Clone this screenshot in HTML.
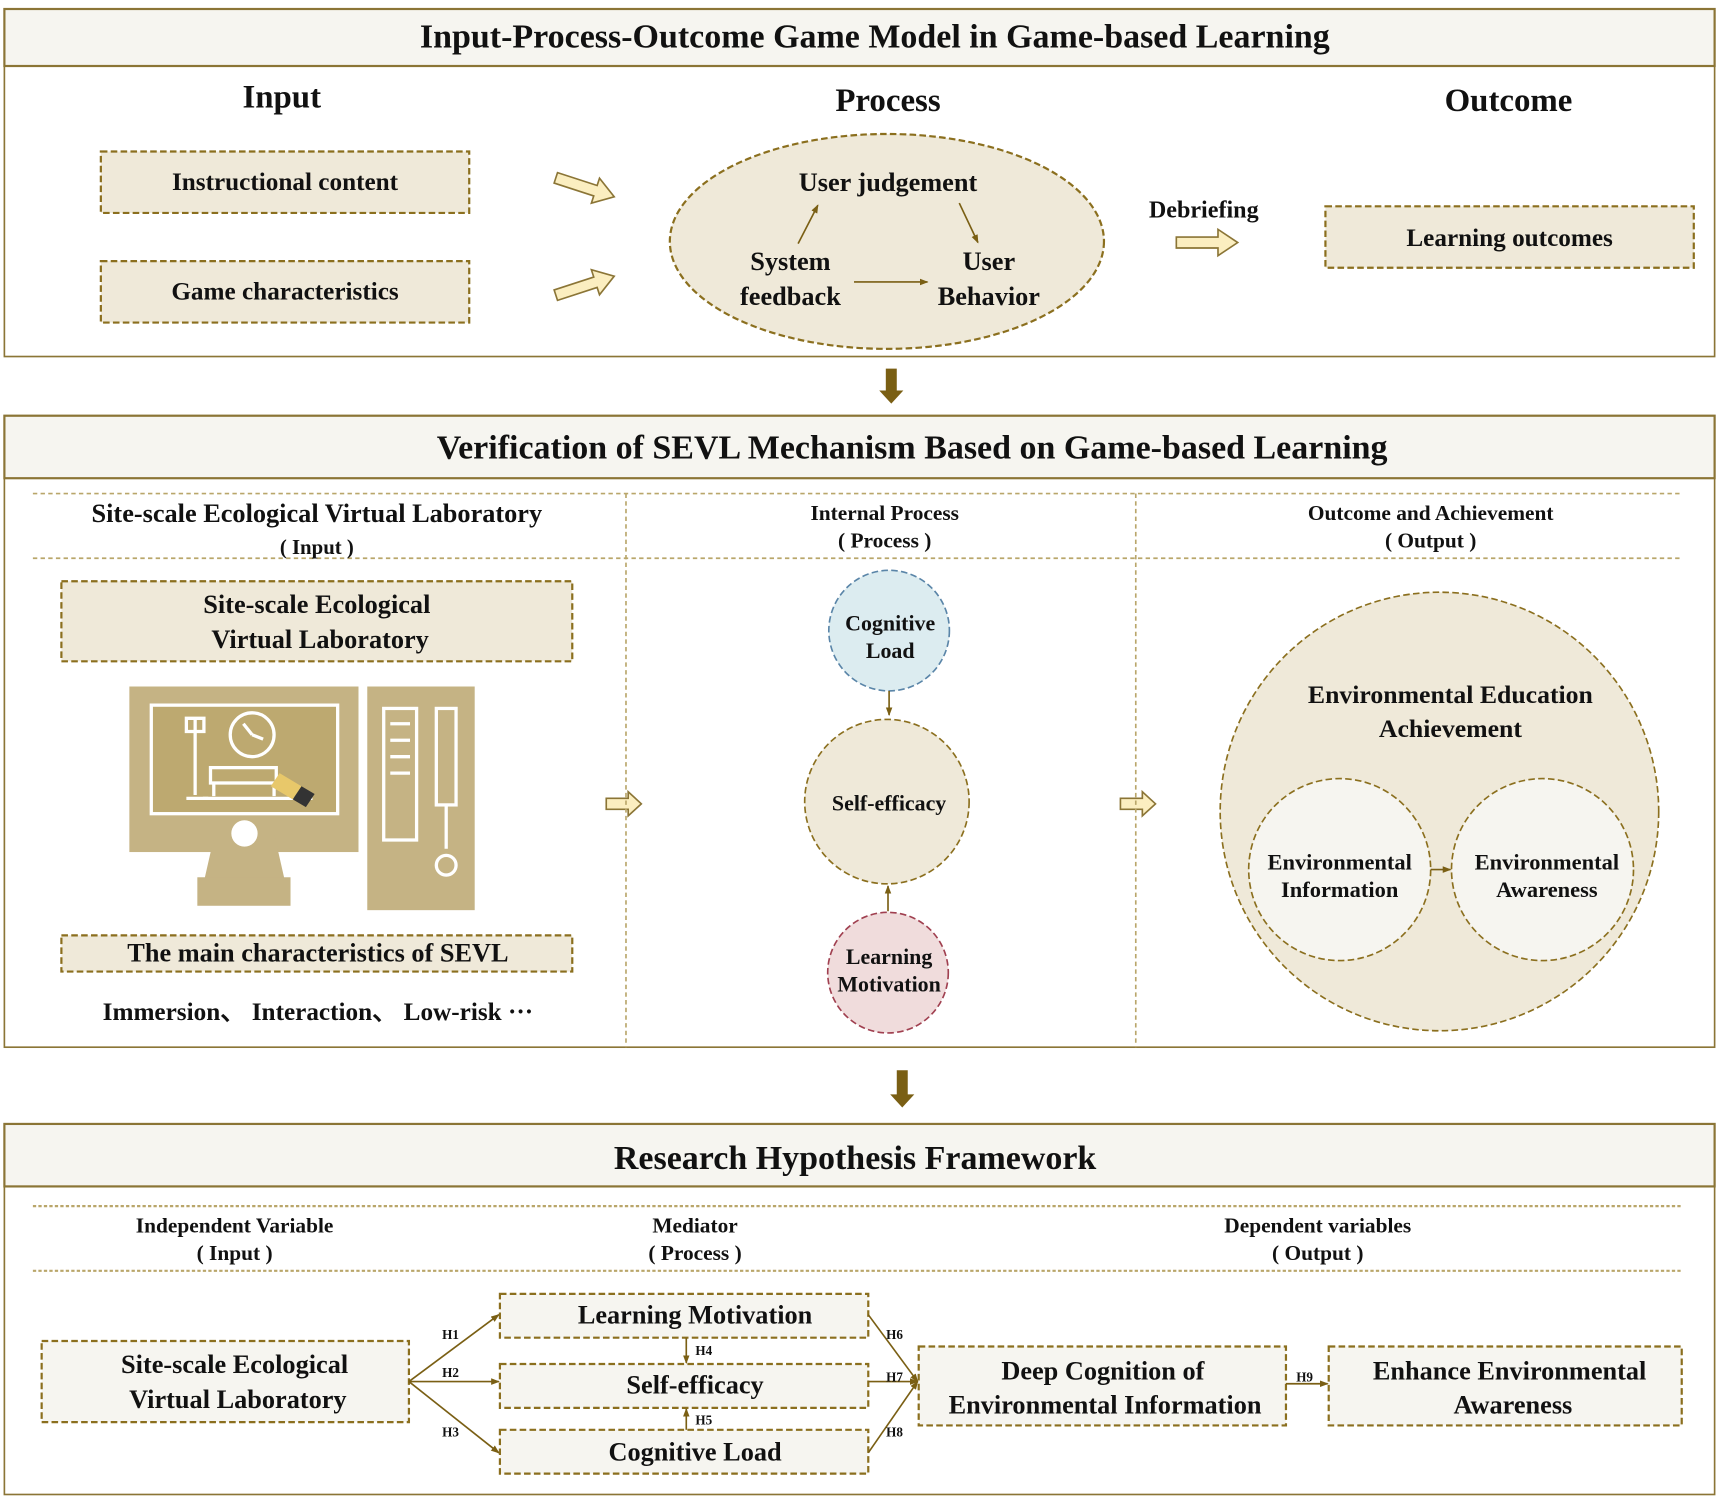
<!DOCTYPE html>
<html><head><meta charset="utf-8"><style>html,body{margin:0;padding:0;background:#fff}svg{display:block}</style></head><body>
<svg width="1719" height="1498" viewBox="0 0 1568 1366" xmlns="http://www.w3.org/2000/svg" font-family="'Liberation Serif', serif" font-weight="bold" text-anchor="middle" fill="#111">
<defs>
<marker id="a" markerWidth="8" markerHeight="8" refX="7" refY="4" orient="auto" markerUnits="userSpaceOnUse"><path d="M0,1 L8,4 L0,7 Z" fill="#7a5f14"/></marker>
</defs>
<g stroke="#8b7536" fill="none">
<rect x="4" y="8" width="1560" height="317" fill="#fff" stroke-width="1.5"/>
<rect x="4" y="8" width="1560" height="52" fill="#f6f5f0" stroke-width="2"/>
<rect x="4" y="379" width="1560" height="576" fill="#fff" stroke-width="1.5"/>
<rect x="4" y="379" width="1560" height="57" fill="#f6f5f0" stroke-width="2"/>
<rect x="4" y="1025" width="1560" height="338" fill="#fff" stroke-width="1.5"/>
<rect x="4" y="1025" width="1560" height="57" fill="#f6f5f0" stroke-width="2"/>
</g>
<text x="798" y="43" font-size="31">Input-Process-Outcome Game Model in Game-based Learning</text>
<text x="257" y="98" font-size="30">Input</text>
<text x="810" y="101" font-size="30">Process</text>
<text x="1376" y="101" font-size="30">Outcome</text>
<g fill="#efe9d9" stroke="#8b6f1e" stroke-width="2" stroke-dasharray="6,3">
<rect x="92" y="138" width="336" height="56"/>
<rect x="92" y="238" width="336" height="56"/>
<rect x="1209" y="188" width="336" height="56"/>
<ellipse cx="809" cy="220" rx="198" ry="98"/>
</g>
<text x="260" y="173" font-size="23">Instructional content</text>
<text x="260" y="273" font-size="23">Game characteristics</text>
<text x="1377" y="224" font-size="23">Learning outcomes</text>
<g font-size="24">
<text x="810" y="174">User judgement</text>
<text x="721" y="246">System</text><text x="721" y="278">feedback</text>
<text x="902" y="246">User</text><text x="902" y="278">Behavior</text>
<text x="1098" y="198" font-size="22">Debriefing</text>
</g>
<g stroke="#7a5f14" stroke-width="1.5" marker-end="url(#a)">
<line x1="728" y1="222" x2="746" y2="187"/>
<line x1="875" y1="185" x2="892" y2="221"/>
<line x1="779" y1="257" x2="846" y2="257"/>
</g>
<g fill="#fbeec0" stroke="#8b7536" stroke-width="1.5">
<path d="M0,-5 L38,-5 L38,-12 L56,0 L38,12 L38,5 L0,5 Z" transform="translate(507,162) rotate(18)"/>
<path d="M0,-5 L38,-5 L38,-12 L56,0 L38,12 L38,5 L0,5 Z" transform="translate(507,269) rotate(-18)"/>
<path d="M0,-5 L38,-5 L38,-12 L56,0 L38,12 L38,5 L0,5 Z" transform="translate(1073,221)"/>
<path d="M0,-5 L20,-5 L20,-11 L32,0 L20,11 L20,5 L0,5 Z" transform="translate(553,733)"/>
<path d="M0,-5 L20,-5 L20,-11 L32,0 L20,11 L20,5 L0,5 Z" transform="translate(1022,733)"/>
</g>
<g fill="#7a5f14">
<path d="M808,336 h10 v20 h6 l-11,12 l-11,-12 h6 z"/>
<path d="M818,976 h10 v22 h6 l-11,12 l-11,-12 h6 z"/>
</g>
<text x="832" y="418" font-size="31">Verification of SEVL Mechanism Based on Game-based Learning</text>
<g stroke="#b9a66a" stroke-width="1.5" stroke-dasharray="4,3">
<line x1="30" y1="450" x2="1535" y2="450"/>
<line x1="30" y1="509" x2="1535" y2="509"/>
<line x1="571" y1="450" x2="571" y2="955"/>
<line x1="1036" y1="450" x2="1036" y2="955"/>
</g>
<text x="289" y="476" font-size="24">Site-scale Ecological Virtual Laboratory</text>
<text x="289" y="505" font-size="19">( Input )</text>
<text x="807" y="474" font-size="19.5">Internal Process</text>
<text x="807" y="499" font-size="19.5">( Process )</text>
<text x="1305" y="474" font-size="19.5">Outcome and Achievement</text>
<text x="1305" y="499" font-size="19.5">( Output )</text>
<g fill="#efe9d9" stroke="#8b6f1e" stroke-width="2" stroke-dasharray="6,3">
<rect x="56" y="530" width="466" height="73"/>
<rect x="56" y="853" width="466" height="33"/>
</g>
<text x="289" y="559" font-size="24">Site-scale Ecological</text>
<text x="292" y="591" font-size="24">Virtual Laboratory</text>
<text x="290" y="877" font-size="24">The main characteristics of SEVL</text>
<text x="290" y="930" font-size="23">Immersion、 Interaction、 Low-risk ···</text>
<g fill="#c5b384">
<rect x="118" y="626" width="209" height="151"/>
<path d="M196,760 h54 l10,44 h-74 z"/>
<rect x="180" y="800" width="85" height="26"/>
<rect x="335" y="626" width="98" height="204"/>
</g>
<rect x="138" y="643" width="170" height="99" fill="#bda970" stroke="#fff" stroke-width="3"/>
<circle cx="223" cy="760" r="12" fill="#fff"/>
<g stroke="#fff" stroke-width="3" fill="none">
<circle cx="230" cy="670" r="20"/><path d="M230,670 l-8,-10 M230,670 l10,4"/>
<path d="M178,655 v70 M170,655 h16 v12 h-16 z M170,728 h20"/>
<rect x="192" y="700" width="60" height="14"/><path d="M195,714 v12 M250,714 v12 M185,728 h100"/>
<rect x="350" y="646" width="30" height="120"/><path d="M356,660 h18 M356,675 h18 M356,690 h18 M356,705 h18"/>
<rect x="398" y="646" width="18" height="88"/><path d="M407,734 v40"/>
<circle cx="407" cy="789" r="9"/>
</g>
<path d="M255,705 l20,12 l-8,12 l-20,-12 z" fill="#e8c86a"/>
<path d="M275,717 l12,7 l-8,12 l-12,-7 z" fill="#333"/>
<circle cx="811" cy="575" r="55" fill="#dcecf0" stroke="#5a85a8" stroke-width="1.5" stroke-dasharray="6,3"/>
<circle cx="809" cy="731" r="75" fill="#efe9d9" stroke="#8b6f1e" stroke-width="1.5" stroke-dasharray="6,3"/>
<circle cx="810" cy="887" r="55" fill="#f0dcdc" stroke="#a04050" stroke-width="1.5" stroke-dasharray="6,3"/>
<g stroke="#7a5f14" stroke-width="1.5" marker-end="url(#a)">
<line x1="811" y1="630" x2="811" y2="652"/>
<line x1="810" y1="831" x2="810" y2="808"/>
</g>
<text x="812" y="575" font-size="20">Cognitive</text><text x="812" y="600" font-size="20">Load</text>
<text x="811" y="739" font-size="20">Self-efficacy</text>
<text x="811" y="879" font-size="20">Learning</text><text x="811" y="904" font-size="20">Motivation</text>
<circle cx="1313" cy="740" r="200" fill="#efe9d9" stroke="#8b6f1e" stroke-width="1.5" stroke-dasharray="6,3"/>
<circle cx="1222" cy="793" r="83" fill="#f6f5f0" stroke="#8b6f1e" stroke-width="1.5" stroke-dasharray="6,3"/>
<circle cx="1407" cy="793" r="83" fill="#f6f5f0" stroke="#8b6f1e" stroke-width="1.5" stroke-dasharray="6,3"/>
<line x1="1305" y1="793" x2="1323" y2="793" stroke="#7a5f14" stroke-width="1.5" marker-end="url(#a)"/>
<text x="1323" y="641" font-size="23.5">Environmental Education</text>
<text x="1323" y="672" font-size="23.5">Achievement</text>
<text x="1222" y="793" font-size="20.5">Environmental</text><text x="1222" y="818" font-size="20.5">Information</text>
<text x="1411" y="793" font-size="20.5">Environmental</text><text x="1411" y="818" font-size="20.5">Awareness</text>
<text x="780" y="1066" font-size="31">Research Hypothesis Framework</text>
<g stroke="#b9a66a" stroke-width="2" stroke-dasharray="3,2">
<line x1="30" y1="1100" x2="1533" y2="1100"/>
<line x1="30" y1="1159" x2="1533" y2="1159"/>
</g>
<g font-size="19.5">
<text x="214" y="1124">Independent Variable</text><text x="214" y="1149">( Input )</text>
<text x="634" y="1124">Mediator</text><text x="634" y="1149">( Process )</text>
<text x="1202" y="1124">Dependent variables</text><text x="1202" y="1149">( Output )</text>
</g>
<g fill="#f6f5f0" stroke="#8b6f1e" stroke-width="2" stroke-dasharray="6,3">
<rect x="38" y="1223" width="335" height="74"/>
<rect x="456" y="1180" width="336" height="40"/>
<rect x="456" y="1244" width="336" height="40"/>
<rect x="456" y="1304" width="336" height="40"/>
<rect x="838" y="1228" width="335" height="72"/>
<rect x="1212" y="1228" width="322" height="72"/>
</g>
<g font-size="24">
<text x="214" y="1252">Site-scale Ecological</text><text x="217" y="1284">Virtual Laboratory</text>
<text x="634" y="1207">Learning Motivation</text>
<text x="634" y="1271">Self-efficacy</text>
<text x="634" y="1332">Cognitive Load</text>
<text x="1006" y="1258">Deep Cognition of</text><text x="1008" y="1289">Environmental Information</text>
<text x="1377" y="1258">Enhance Environmental</text><text x="1380" y="1289">Awareness</text>
</g>
<g stroke="#7a5f14" stroke-width="1.5" fill="none" marker-end="url(#a)">
<line x1="373" y1="1260" x2="455" y2="1199"/>
<line x1="373" y1="1260" x2="455" y2="1260"/>
<line x1="373" y1="1260" x2="455" y2="1325"/>
<line x1="626" y1="1220" x2="626" y2="1243"/>
<line x1="626" y1="1304" x2="626" y2="1285"/>
<line x1="792" y1="1199" x2="837" y2="1260"/>
<line x1="792" y1="1260" x2="837" y2="1260"/>
<line x1="792" y1="1325" x2="837" y2="1260"/>
<line x1="1173" y1="1262" x2="1211" y2="1262"/>
</g>
<g font-size="12">
<text x="411" y="1221">H1</text><text x="411" y="1256">H2</text><text x="411" y="1310">H3</text>
<text x="642" y="1236">H4</text><text x="642" y="1299">H5</text>
<text x="816" y="1221">H6</text><text x="816" y="1260">H7</text><text x="816" y="1310">H8</text>
<text x="1190" y="1260">H9</text>
</g>
</svg>
</body></html>
